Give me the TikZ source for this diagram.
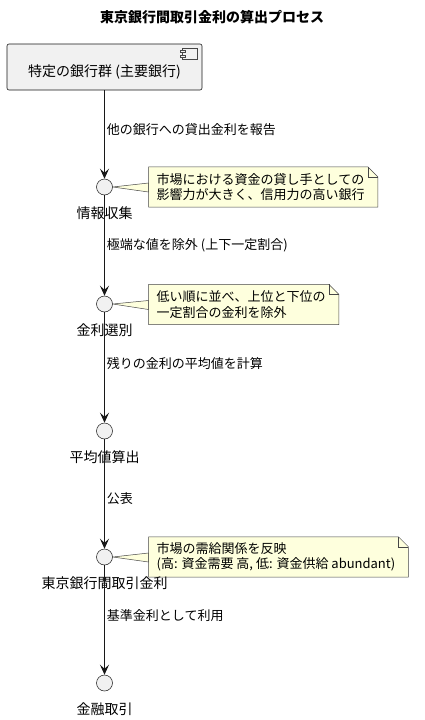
\documentclass[tikz,border=0pt]{standalone}
\usepackage{fontspec}
\setmainfont{Noto Sans CJK JP}
\usetikzlibrary{arrows.meta,positioning,calc,backgrounds}
\definecolor{memofill}{HTML}{FEFFDD}
\definecolor{boxfill}{HTML}{F1F1F1}
\definecolor{rim}{HTML}{181818}
\tikzset{
    % standard arrow tip
    >={Stealth[length=10pt,width=9pt,inset=4pt]},
    % arrow style
    pil/.style={
           ->,
           line width=0.9pt,
           draw=rim},
    stage/.style={circle, draw=rim, fill=boxfill, line width=0.5pt,
           minimum size=16pt, inner sep=0pt},
    stagetxt/.style={font=\fontsize{14}{16}\selectfont, inner sep=0pt, yshift=-11pt},
    tag/.style={right, inner sep=2pt, font=\fontsize{13}{15}\selectfont},
    memo/.style={anchor=west, align=left, inner xsep=8pt, inner ysep=0pt,
           minimum height=40pt, font=\fontsize{13}{15.5}\selectfont},
    memoline/.style={draw=rim!80, fill=memofill, line width=0.5pt}
}
\begin{document}
\begin{tikzpicture}[x=1pt,y=-1pt]
\useasboundingbox (0,0) rectangle (424,720);

\node[font=\bfseries\fontsize{14}{16}\selectfont] (title) at (212,17) {東京銀行間取引金利の算出プロセス};

% bank group
\node[draw=rim, fill=boxfill, line width=0.6pt, rounded corners=2pt,
      minimum width=195pt, minimum height=46pt,
      label={[font=\fontsize{14}{16}\selectfont, yshift=-5pt]center:特定の銀行群 (主要銀行)}] (bank) at (104.5,67) {};
\draw[draw=rim!80, fill=boxfill, line width=0.5pt] ($(bank.north east)+(-20,5)$) rectangle ($(bank.north east)+(-5,16)$);
\draw[draw=rim!80, fill=boxfill, line width=0.5pt] ($(bank.north east)+(-22,7)$) rectangle ($(bank.north east)+(-17,9)$);
\draw[draw=rim!80, fill=boxfill, line width=0.5pt] ($(bank.north east)+(-22,12)$) rectangle ($(bank.north east)+(-17,14)$);

% steps
\node[stage, label={[stagetxt]below:情報収集}] (c1) at (104.5,187) {};
\node[stage, label={[stagetxt]below:金利選別}] (c2) at (104.5,304) {};
\node[stage, label={[stagetxt]below:平均値算出}] (c3) at (104.5,431) {};
\node[stage, label={[stagetxt]below:東京銀行間取引金利}] (c4) at (104.5,557) {};
\node[stage, label={[stagetxt]below:金融取引}] (c5) at (104.5,683) {};

\draw[pil] (bank) -- node[tag, pos=.44] {他の銀行への貸出金利を報告} (c1);
\draw[pil] (c1) -- node[tag, pos=.5] {極端な値を除外 (上下一定割合)} (c2);
\draw[pil] (c2) -- node[tag, pos=.46] {残りの金利の平均値を計算} (c3);
\draw[pil] (c3) -- node[tag, pos=.54] {公表} (c4);
\draw[pil] (c4) -- node[tag, pos=.46] {基準金利として利用} (c5);

% notes
\node[memo] (n1) at (148.5,187) {市場における資金の貸し手としての\\影響力が大きく、信用力の高い銀行};
\node[memo] (n2) at (148.5,304.5) {低い順に並べ、上位と下位の\\一定割合の金利を除外};
\node[memo] (n3) at (148.5,557) {市場の需給関係を反映\\(高: 資金需要 高, 低: 資金供給 abundant)};

\begin{scope}[on background layer]
\foreach \c/\n in {c1/n1,c2/n2,c4/n3} {
  \draw[memoline] (\c.east) -- ($(\n.west)+(0,-4)$) -- ($(\n.west)+(0,5)$) -- cycle;
  \draw[memoline] (\n.north west) -- ($(\n.north east)+(-5,0)$) -- ($(\n.north east)+(5,10)$)
        -- ($(\n.south east)+(5,0)$) -- (\n.south west) -- cycle;
  \draw[memoline, fill=none] ($(\n.north east)+(-5,0)$) -- ($(\n.north east)+(-5,10)$) -- ($(\n.north east)+(5,10)$);
}
\end{scope}
\end{tikzpicture}
\end{document}
